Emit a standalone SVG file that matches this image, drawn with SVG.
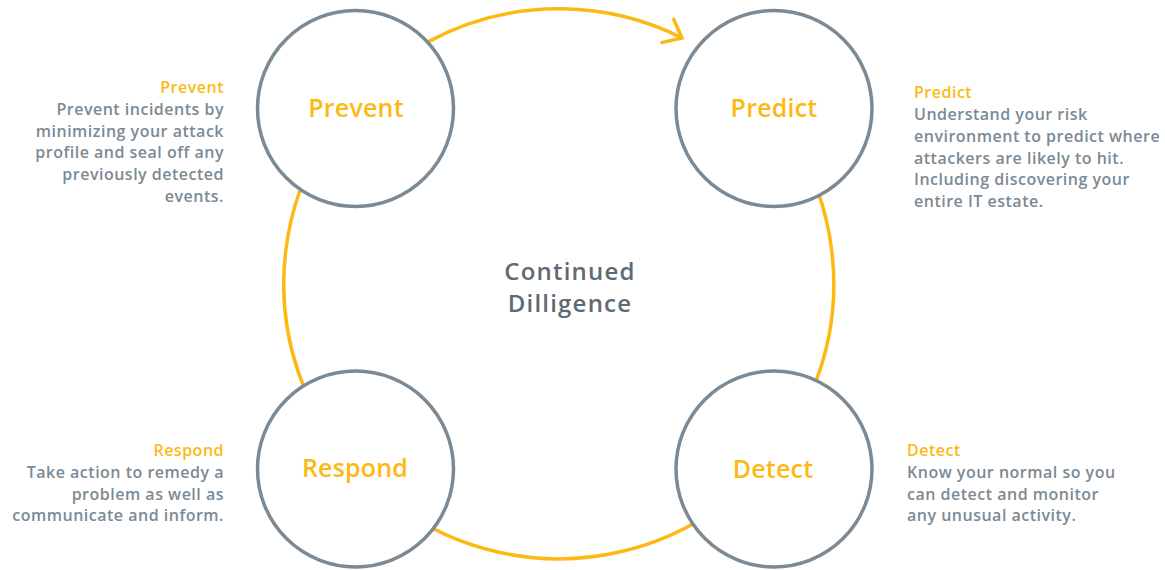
<svg xmlns="http://www.w3.org/2000/svg" width="1165" height="570" viewBox="0 0 1165 570">
<style>
.node{fill:#fff;stroke:#7B8A94;stroke-width:3.5}
.nlabel{font-family:"Open Sans","Liberation Sans",sans-serif;font-weight:600;font-size:25px;letter-spacing:0.2px;fill:#FDB913;text-anchor:middle}
.head{font-family:"Open Sans","Liberation Sans",sans-serif;font-weight:600;font-size:16px;letter-spacing:0.5px;fill:#FDB913}
.desc{font-family:"Open Sans","Liberation Sans",sans-serif;font-weight:600;font-size:16px;letter-spacing:0.5px;fill:#7B8A94}
.center{font-family:"Open Sans","Liberation Sans",sans-serif;font-weight:600;font-size:24px;letter-spacing:1.2px;fill:#5E6B74;text-anchor:middle}
.ring{fill:none;stroke:#FDB913;stroke-width:3.5}
</style>
<defs>
<marker id="chev" markerUnits="userSpaceOnUse" markerWidth="40" markerHeight="40" viewBox="-20 -20 40 40" refX="0" refY="0" orient="auto-start-reverse">
<path d="M -17 -14 L 0 0 L -17 14" fill="none" stroke="#FDB913" stroke-width="3.5"/>
</marker>
</defs>
<rect width="1165" height="570" fill="#fff"/>
<g id="connectors">
<path class="ring" d="M 682 38 A 275 275 0 1 0 790 135" marker-start="url(#chev)"/>
</g>
<g id="node-prevent">
<circle class="node" cx="355.5" cy="108.5" r="98"/>
<text class="nlabel" x="356" y="117">Prevent</text>
</g>
<g id="node-predict">
<circle class="node" cx="774" cy="108.5" r="98"/>
<text class="nlabel" x="774" y="117">Predict</text>
</g>
<g id="node-respond">
<circle class="node" cx="355.5" cy="469" r="98"/>
<text class="nlabel" x="355" y="477">Respond</text>
</g>
<g id="node-detect">
<circle class="node" cx="774" cy="469" r="98"/>
<text class="nlabel" x="773" y="478">Detect</text>
</g>
<g id="center">
<text class="center" x="570" y="280">Continued</text>
<text class="center" x="570" y="312">Dilligence</text>
</g>
<g id="text-prevent" text-anchor="end">
<text class="head" x="224" y="93">Prevent</text>
<text class="desc" x="224" y="115">Prevent incidents by</text>
<text class="desc" x="224" y="137">minimizing your attack</text>
<text class="desc" x="224" y="158">profile and seal off any</text>
<text class="desc" x="224" y="180">previously detected</text>
<text class="desc" x="224" y="202">events.</text>
</g>
<g id="text-predict">
<text class="head" x="914" y="98">Predict</text>
<text class="desc" x="914" y="120">Understand your risk</text>
<text class="desc" x="914" y="142">environment to predict where</text>
<text class="desc" x="914" y="164">attackers are likely to hit.</text>
<text class="desc" x="914" y="185">Including discovering your</text>
<text class="desc" x="914" y="207">entire IT estate.</text>
</g>
<g id="text-respond" text-anchor="end">
<text class="head" x="224" y="456">Respond</text>
<text class="desc" x="224" y="478">Take action to remedy a</text>
<text class="desc" x="224" y="500">problem as well as</text>
<text class="desc" x="224" y="521">communicate and inform.</text>
</g>
<g id="text-detect">
<text class="head" x="907" y="456">Detect</text>
<text class="desc" x="907" y="478">Know your normal so you</text>
<text class="desc" x="907" y="500">can detect and monitor</text>
<text class="desc" x="907" y="521">any unusual activity.</text>
</g>
</svg>
